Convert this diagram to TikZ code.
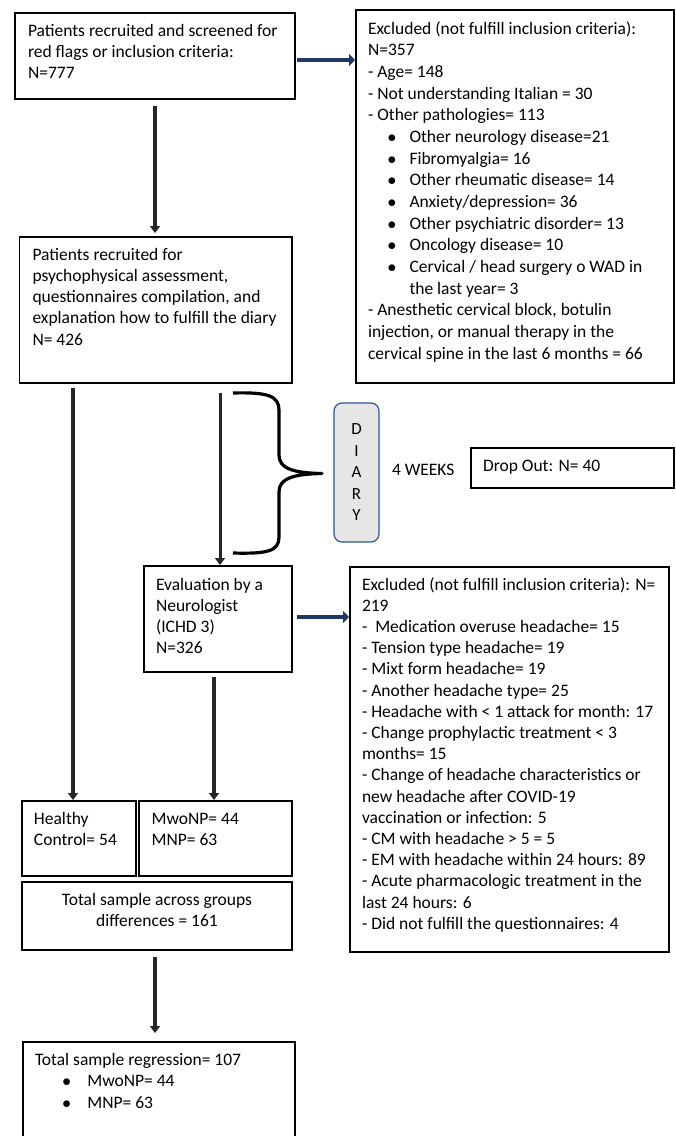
\documentclass[tikz,border=0pt]{standalone}
\usepackage{fontspec}
\setmainfont{Carlito}
\usetikzlibrary{arrows.meta,calc}
\definecolor{navy}{RGB}{31,56,100}
\definecolor{diaryblue}{RGB}{47,85,151}
\definecolor{diaryfill}{RGB}{231,230,230}
\newcommand{\fstrut}{\rule{0pt}{14pt}}
\newcommand{\bitem}[2]{\makebox[#2][l]{\hspace*{#1}$\bullet$}}
\begin{document}
\begin{tikzpicture}[x=1pt,y=-1pt,
  box/.style={draw=black, line width=1.6pt, anchor=north west, inner sep=0pt, outer sep=0pt},
  txt/.style={anchor=north west, inner sep=0pt, outer sep=0pt, align=left, font=\fontsize{17.5pt}{21.3pt}\selectfont},
  arr/.style={line width=4pt, draw=black!85, -{Triangle[width=10pt,length=7pt]}},
  barr/.style={line width=4.5pt, draw=navy, -{Triangle[width=12pt,length=6pt]}},
  bracestyle/.style={line width=3.2pt, line join=round, draw=black}
]
\useasboundingbox (0,0) rectangle (676,1136);

% boxes
\node[box, minimum width=280pt, minimum height=86pt] (b1) at (15,13) {};
\node[box, minimum width=318pt, minimum height=373pt] (ex1) at (356,10) {};
\node[box, minimum width=272.5pt, minimum height=146pt] (b2) at (19.5,237) {};
\node[box, minimum width=203pt, minimum height=40pt] (drop) at (471,448) {};
\node[box, minimum width=148pt, minimum height=106pt] (ev) at (144,566) {};
\node[box, minimum width=319pt, minimum height=385pt] (ex2) at (350,567) {};
\node[box, minimum width=114pt, minimum height=75pt] (hc) at (22,801) {};
\node[box, minimum width=153pt, minimum height=75pt] (mw) at (139,801) {};
\node[box, minimum width=270pt, minimum height=68pt] (tot) at (22,882) {};
\node[box, minimum width=272pt, minimum height=130pt] (fin) at (23,1042) {};

% texts
\node[txt] (t1) at (28,22.3) {\fstrut Patients recruited and screened for\\red flags or inclusion criteria:\\N=777};
\node[txt, font=\fontsize{17.5pt}{21.67pt}\selectfont] (te1) at (368,20) {\fstrut Excluded (not fulfill inclusion criteria):\\
N=357\\
- Age= 148\\
- Not understanding Italian = 30\\
- Other pathologies= 113\\
\bitem{19.6pt}{41.5pt}Other neurology disease=21\\
\bitem{19.6pt}{41.5pt}Fibromyalgia= 16\\
\bitem{19.6pt}{41.5pt}Other rheumatic disease= 14\\
\bitem{19.6pt}{41.5pt}Anxiety/depression= 36\\
\bitem{19.6pt}{41.5pt}Other psychiatric disorder= 13\\
\bitem{19.6pt}{41.5pt}Oncology disease= 10\\
\bitem{19.6pt}{41.5pt}Cervical / head surgery o WAD in\\
\hspace*{41.5pt}the last year= 3\\
- Anesthetic cervical block, botulin\\
injection, or manual therapy in the\\
cervical spine in the last 6 months = 66};
\node[txt] (t2) at (32.5,246) {\fstrut Patients recruited for\\psychophysical assessment,\\questionnaires compilation, and\\explanation how to fulfill the diary\\N= 426};
\node[txt] (tdrop) at (483,457.6) {\fstrut Drop Out: N= 40};
\node[txt] (tweeks) at (392,461) {\fstrut 4 WEEKS};
\node[txt, font=\fontsize{17.5pt}{21.2pt}\selectfont] (tev) at (156,576) {\fstrut Evaluation by a\\Neurologist\\(ICHD 3)\\N=326};
\node[txt, font=\fontsize{17.5pt}{21.2pt}\selectfont] (tex2) at (362,576) {\fstrut Excluded (not fulfill inclusion criteria): N=\\
219\\
-\ \ Medication overuse headache= 15\\
- Tension type headache= 19\\
- Mixt form headache= 19\\
- Another headache type= 25\\
- Headache with < 1 attack for month: 17\\
- Change prophylactic treatment < 3\\
months= 15\\
- Change of headache characteristics or\\
new headache after COVID-19\\
vaccination or infection: 5\\
- CM with headache > 5 = 5\\
- EM with headache within 24 hours: 89\\
- Acute pharmacologic treatment in the\\
last 24 hours: 6\\
- Did not fulfill the questionnaires: 4};
\node[txt] (thc) at (34,810) {\fstrut Healthy\\Control= 54};
\node[txt] (tmw) at (151.6,810) {\fstrut MwoNP= 44\\MNP= 63};
\node[txt, anchor=north, align=center, font=\fontsize{17.5pt}{21.5pt}\selectfont] (ttot) at (157,891) {\fstrut Total sample across groups\\differences = 161};
\node[txt] (tfin) at (35,1051.5) {\fstrut Total sample regression= 107\\
\bitem{27.3pt}{52.3pt}MwoNP= 44\\
\bitem{27.3pt}{52.3pt}MNP= 63};

% diary
\node[draw=diaryblue, fill=diaryfill, line width=1.2pt, rounded corners=8pt,
      minimum width=45pt, minimum height=139pt, inner sep=0pt, align=center,
      font=\fontsize{17pt}{21.5pt}\selectfont] (diary) at (356.5,472.5) {D\\I\\A\\R\\Y};

% brace
\draw[bracestyle] (233,393) .. controls (268,392) and (279,396) .. (279,410)
  -- (279,455) .. controls (279,468) and (292,473) .. (322,473.5)
  .. controls (292,474) and (279,479) .. (279,492)
  -- (279,537) .. controls (279,551) and (268,554) .. (233,553);

% arrows
\draw[arr] ([yshift=-7pt]b1.south) -- ($(b1.south |- b2.north)+(0,-4)$);
\draw[barr] ($(b1.east)+(2,4)$) -- ($(b1.east -| ex1.west)+(-1,4)$);
\draw[arr] ($(b2.south -| hc.north)+(-6,5)$) -- ($(hc.north)+(-6,-1)$);
\draw[arr, line width=3pt] ($(b2.south -| ev.north)+(2,10)$) -- ($(ev.north)+(2,-1)$);
\draw[barr] ($(ev.east)+(5,-2)$) -- ($(ev.east -| ex2.west)+(-1,-2)$);
\draw[arr] ($(ev.south -| mw.north)+(-1.5,5)$) -- ($(mw.north)+(-1.5,-1)$);
\draw[arr] ($(tot.south)+(-2,7)$) -- ($(tot.south |- fin.north)+(-2,-9)$);
\end{tikzpicture}
\end{document}
